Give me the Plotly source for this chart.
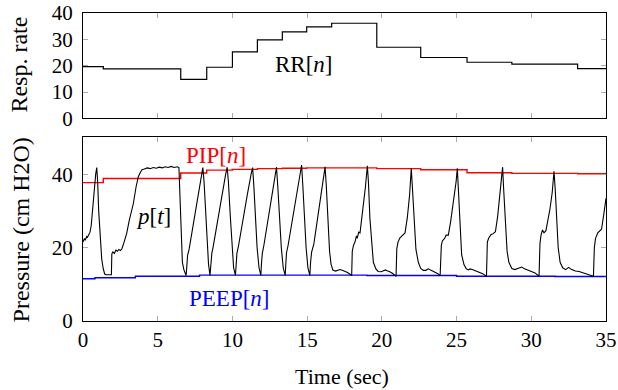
import plotly.graph_objects as go

# ---------------- data ----------------
# Step breakpoints (sec) for RR and PIP
step_t = [0, 1.36, 6.54, 8.28, 10.0, 11.67, 13.34, 14.97, 16.64, 19.66, 22.6, 25.7, 28.7, 33.1, 35]
rr_vals = [19.6, 18.8, 14.8, 19.4, 25.2, 29.8, 32.8, 34.7, 36.1, 27.0, 23.1, 21.3, 20.6, 18.9]
pip_vals = [37.7, 38.8, 40.3, 41.1, 41.3, 41.5, 41.6, 41.7, 41.7, 41.5, 41.2, 40.4, 40.2, 40.1]

# PEEP step breakpoints
peep_t = [0, 0.8, 3.5, 7.8, 19.0, 25.0, 31.6, 35]
peep_vals = [11.5, 11.8, 12.2, 12.5, 12.4, 12.2, 12.1]

# Pressure waveform p[t]
p_t = [0.0, 0.1, 0.15, 0.25, 0.3, 0.4, 0.47, 0.55, 0.65, 0.75, 0.85, 0.92, 0.98, 1.05, 1.15, 1.25, 1.35, 1.45, 1.55, 1.9,
       1.93, 2.0, 2.1, 2.2, 2.3, 2.4, 2.5, 2.6, 2.75, 2.92, 3.1, 3.37, 3.55, 3.7, 3.85, 3.95, 4.1, 4.3, 4.5, 4.7,
       4.9, 5.1, 5.3, 5.5, 5.7, 5.9, 6.1, 6.3, 6.42, 6.47, 6.52, 6.58, 6.65, 6.75, 6.9,
       6.95, 7.0, 7.1, 7.4, 7.7, 7.95, 8.02, 8.1, 8.2, 8.3, 8.4, 8.5,
       8.57, 8.62, 8.7, 9.0, 9.3, 9.55, 9.65, 9.73, 9.85, 9.95, 10.08, 10.2,
       10.26, 10.3, 10.4, 10.7, 11.0, 11.25, 11.35, 11.43, 11.55, 11.65, 11.78, 11.9,
       11.95, 12.0, 12.1, 12.4, 12.7, 12.88, 12.95, 13.03, 13.15, 13.27, 13.4, 13.53,
       13.58, 13.62, 13.72, 14.0, 14.3, 14.55, 14.63, 14.71, 14.82, 14.93, 15.05, 15.18,
       15.23, 15.3, 15.45, 15.6, 15.8, 16.05, 16.2, 16.28, 16.38, 16.5, 16.6, 16.72, 16.9, 17.05, 17.2, 17.35, 17.5, 17.7, 17.85, 17.98,
       18.02, 18.1, 18.2, 18.3, 18.35, 18.45, 18.54, 18.7, 18.9, 19.03, 19.1, 19.2, 19.32, 19.43, 19.6, 19.75, 19.95, 20.1, 20.25, 20.35, 20.5, 20.7, 20.85, 20.95,
       21.0, 21.08, 21.2, 21.35, 21.55, 21.7, 21.85, 21.97, 22.05, 22.15, 22.28, 22.44, 22.6, 22.78, 22.95, 23.1, 23.25, 23.4, 23.6, 23.75, 23.9,
       23.98, 24.05, 24.2, 24.3, 24.45, 24.6, 24.8, 24.97, 25.05, 25.12, 25.22, 25.34, 25.5, 25.65, 25.8, 25.9, 26.05, 26.25, 26.5, 26.75, 27.0,
       27.06, 27.15, 27.3, 27.45, 27.6, 27.75, 27.9, 28.02, 28.08, 28.15, 28.25, 28.38, 28.5, 28.7, 28.9, 29.15, 29.36, 29.55, 29.75, 30.0, 30.25, 30.52,
       30.58, 30.65, 30.75, 30.85, 30.98, 31.1, 31.25, 31.4, 31.52, 31.6, 31.7, 31.8, 31.93, 32.1, 32.3, 32.5, 32.7, 32.95, 33.2, 33.5, 33.8, 34.16,
       34.22, 34.3, 34.45, 34.6, 34.7, 34.85, 35.0]
p_v = [21.5, 22.5, 22.0, 23.0, 22.8, 23.8, 24.2, 26.0, 31.0, 36.0, 40.0, 41.8, 38.0, 30.0, 22.0, 17.0, 14.3, 12.8, 12.6, 12.6,
       18.3, 18.8, 18.4, 19.3, 19.0, 19.5, 19.2, 19.6, 21.5, 23.8, 27.5, 32.0, 36.5, 39.3, 40.6, 41.2, 41.4, 41.7, 41.5, 41.8,
       41.6, 41.9, 41.7, 42.0, 41.8, 42.1, 41.8, 42.0, 41.8, 36.0, 27.0, 20.0, 16.0, 14.0, 12.4,
       15.0, 17.9, 19.5, 27.0, 34.5, 40.5, 41.8, 38.0, 30.0, 22.0, 15.5, 12.4,
       16.0, 18.4, 20.0, 27.5, 34.0, 40.0, 41.9, 38.0, 29.0, 21.0, 14.5, 12.4,
       16.0, 18.4, 20.3, 28.0, 34.5, 40.0, 41.8, 37.0, 28.0, 20.0, 14.5, 12.4,
       16.0, 18.4, 20.5, 28.5, 35.5, 40.5, 41.9, 37.0, 28.0, 20.0, 14.5, 12.4,
       16.0, 18.6, 20.5, 27.5, 35.0, 41.0, 42.5, 37.0, 28.0, 20.0, 14.5, 12.4,
       16.0, 18.8, 21.0, 25.5, 31.0, 38.0, 42.0, 37.0, 27.0, 19.0, 15.5, 13.9, 13.6, 13.9, 14.0, 13.8, 13.6, 13.2, 12.8, 12.4,
       19.0, 20.6, 21.5, 23.2, 22.5, 24.2, 24.0, 29.0, 36.5, 42.3, 38.0, 28.0, 20.0, 16.0, 14.2, 13.5, 13.4, 13.6, 13.9, 13.7, 13.5, 13.0, 12.6, 12.2,
       19.7, 21.5, 22.6, 23.2, 24.0, 28.0, 34.0, 41.6, 36.0, 27.0, 19.5, 16.0, 14.3, 13.8, 13.8, 14.2, 13.9, 13.7, 13.3, 12.9, 12.3,
       20.6, 21.8, 22.5, 23.4, 23.4, 27.0, 32.5, 38.0, 41.6, 36.0, 27.0, 18.0, 15.3, 14.2, 13.9, 14.2, 14.0, 13.7, 13.3, 12.9, 12.2,
       21.5, 22.6, 23.5, 23.8, 24.3, 28.5, 34.0, 39.5, 41.9, 36.0, 27.0, 19.0, 16.0, 14.3, 14.0, 14.4, 14.7, 14.2, 13.8, 13.5, 13.1, 12.2,
       21.0, 23.4, 24.8, 24.0, 24.6, 27.0, 30.5, 35.0, 40.8, 36.0, 27.0, 20.0, 16.0, 14.5, 14.0, 14.6, 14.0, 13.6, 13.5, 13.1, 12.8, 12.2,
       20.0, 22.5, 24.0, 24.8, 25.0, 29.0, 33.4]

x_ticks = [0, 5, 10, 15, 20, 25, 30, 35]
rr_ticks = [0, 10, 20, 30, 40]
p_ticks = [0, 20, 40]

# ---------------- figure ----------------
FONT = "Liberation Serif"
fig = go.Figure()

# top panel: RR
fig.add_trace(go.Scatter(x=step_t, y=rr_vals + [rr_vals[-1]], mode="lines", line_shape="hv",
                         line=dict(color="black", width=1.2), xaxis="x2", yaxis="y2", showlegend=False))
# bottom panel
fig.add_trace(go.Scatter(x=step_t, y=pip_vals + [pip_vals[-1]], mode="lines", line_shape="hv",
                         line=dict(color="#ff0000", width=1.4), xaxis="x", yaxis="y", showlegend=False))
fig.add_trace(go.Scatter(x=peep_t, y=peep_vals + [peep_vals[-1]], mode="lines", line_shape="hv",
                         line=dict(color="#0000ff", width=1.4), xaxis="x", yaxis="y", showlegend=False))
fig.add_trace(go.Scatter(x=p_t, y=p_v, mode="lines",
                         line=dict(color="black", width=1.1), xaxis="x", yaxis="y", showlegend=False))

axis_common = dict(showline=True, linecolor="black", linewidth=1, mirror="ticks",
                   ticks="inside", ticklen=5, tickcolor="#aaaaaa", tickwidth=1,
                   showgrid=False, zeroline=False, automargin=False, ticklabeloverflow="allow",
                   tickfont=dict(family=FONT, size=21, color="black"))

fig.update_layout(
    width=618, height=390,
    margin=dict(l=83, r=12, t=13, b=69),
    paper_bgcolor="white", plot_bgcolor="white",
    xaxis=dict(domain=[0, 1], range=[0, 35], anchor="y", tickvals=x_ticks, ticklabelstandoff=0, **axis_common),
    yaxis=dict(domain=[0, 0.596], range=[0, 50], anchor="x", tickvals=p_ticks, ticklabelstandoff=5, **axis_common),
    xaxis2=dict(domain=[0, 1], range=[0, 35], anchor="y2", tickvals=x_ticks, showticklabels=False, **axis_common),
    yaxis2=dict(domain=[0.658, 1], range=[0, 40], anchor="x2", tickvals=rr_ticks, ticklabelstandoff=5, **axis_common),
)

ann_font = dict(family=FONT, size=23, color="black")
title_font = dict(family=FONT, size=22, color="black")
vtitle_font = dict(family=FONT, size=24, color="black")
common_ann = dict(showarrow=False, xanchor="center", yanchor="middle")
fig.add_annotation(text="RR[<i>n</i>]", x=14.8, y=20.5, xref="x2", yref="y2", font=ann_font, **common_ann)
fig.add_annotation(text="<i>p</i>[<i>t</i>]", x=4.71, y=28.5, xref="x", yref="y", font=ann_font, **common_ann)
fig.add_annotation(text="PIP[<i>n</i>]", x=8.92, y=45.1, xref="x", yref="y",
                   font=dict(family=FONT, size=23, color="#ff0000"), **common_ann)
fig.add_annotation(text="PEEP[<i>n</i>]", x=9.79, y=6.2, xref="x", yref="y",
                   font=dict(family=FONT, size=23, color="#0000ff"), **common_ann)

# axis titles
fig.add_annotation(text="Resp. rate", x=-0.1214, y=0.831, xref="paper", yref="paper", textangle=-90,
                   font=vtitle_font, **common_ann)
fig.add_annotation(text="Pressure (cm H2O)", x=-0.118, y=0.295, xref="paper", yref="paper", textangle=-90,
                   font=vtitle_font, **common_ann)
fig.add_annotation(text="Time (sec)", x=0.4946, y=-0.1786, xref="paper", yref="paper",
                   font=title_font, **common_ann)

fig.write_html("out.html", config={"displayModeBar": False},
               post_script="document.body.style.margin='0';document.body.style.overflow='hidden';")
